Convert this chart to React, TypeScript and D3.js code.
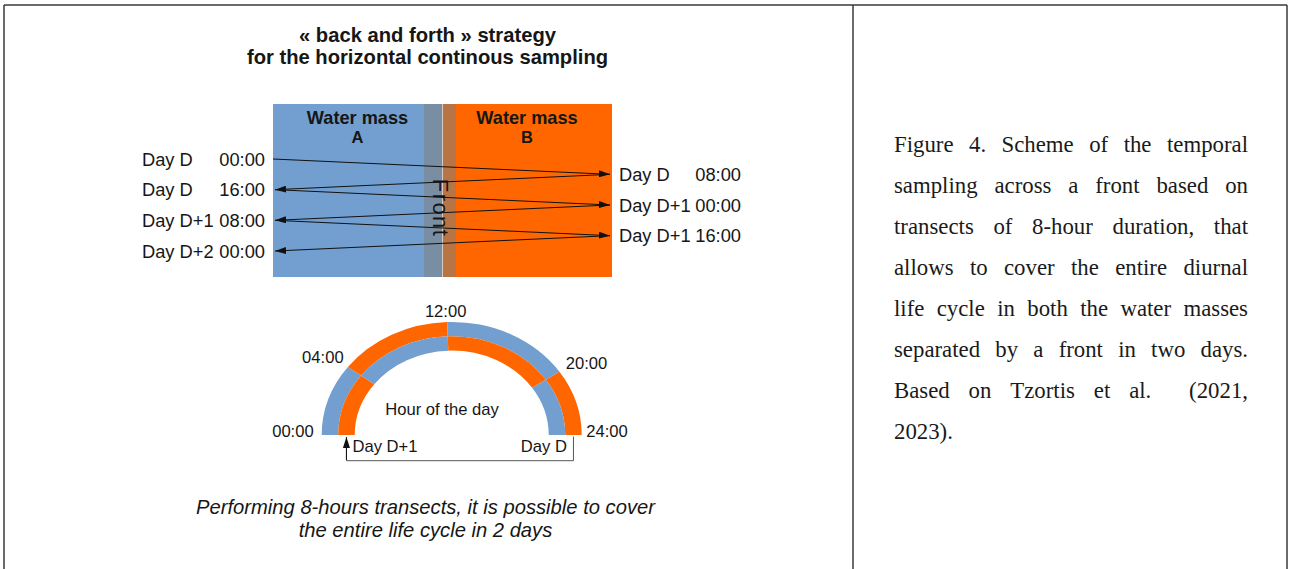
import React, { useMemo } from "react";
import * as d3 from "d3";

const W = 1290;
const H = 569;

// ---------- data ----------
const titleLines = ["« back and forth » strategy", "for the horizontal continous sampling"];
const massNames = ["A", "B"];
const massColors = ["#729fcf", "#ff6600"];
const massLabels = ["Water mass", "Water mass"];

const transectHours = [0, 8, 16, 24, 32, 40, 48];
const transectDays = ["Day D", "Day D", "Day D", "Day D+1", "Day D+1", "Day D+1", "Day D+2"];
const transectTimes = ["00:00", "08:00", "16:00", "00:00", "08:00", "16:00", "00:00"];
const transectMass = ["A", "B", "A", "B", "A", "B", "A"];

const hourTicks = [0, 4, 12, 20, 24];
const hourTickLabels = ["00:00", "04:00", "12:00", "20:00", "24:00"];
const segStart = [0, 4, 12, 20];
const segEnd = [4, 12, 20, 24];
const dayDMass = ["A", "B", "A", "B"]; // outer ring
const dayD1Mass = ["B", "A", "B", "A"]; // inner ring
const ringDayLabels = ["Day D", "Day D+1"];

const captionLines = [
  "Performing 8-hours transects, it is possible to cover",
  "the entire life cycle in 2 days",
];

const noteLines = [
  "Figure 4. Scheme of the temporal",
  "sampling across a front based on",
  "transects of 8-hour duration, that",
  "allows to cover the entire diurnal",
  "life cycle in both the water masses",
  "separated by a front in two days.",
  "Based on Tzortis et al.  (2021,",
  "2023).",
];

// ---------- layout ----------
const SANS = "'Liberation Sans', Arial, sans-serif";
const SERIF = "'Liberation Serif', 'Times New Roman', serif";
const INK = "#161616";

const box = { x0: 273, x1: 612, y0: 104, y1: 277, split: 442.5, f0: 424, f1: 456 };
const ring = { cx: 451.7, cy: 435, ky: 0.87, rOuter: 130, rMid: 113.5, rInner: 97 };
const tickOffsets = [
  { dx: -8, dy: 2, anchor: "end" },
  { dx: -25, dy: -4, anchor: "middle" },
  { dx: -1.5, dy: -4.5, anchor: "middle" },
  { dx: 27, dy: -3, anchor: "middle" },
  { dx: 4.5, dy: 2, anchor: "start" },
];
const note = { x0: 894, x1: 1248, y0: 152, pitch: 41, size: 22.8 };

let _ctx: CanvasRenderingContext2D | null = null;
function measure(text: string, font: string) {
  if (!_ctx) _ctx = document.createElement("canvas").getContext("2d");
  if (!_ctx) return text.length * 10;
  _ctx.font = font;
  return _ctx.measureText(text).width;
}

export default function App() {
  const y = d3.scaleLinear().domain([0, 48]).range([159, 251]);
  const x = d3.scaleOrdinal<string, number>().domain(massNames).range([275, 610]);
  const color = d3.scaleOrdinal<string, string>().domain(massNames).range(massColors);
  const angle = d3.scaleLinear().domain(hourTicks).range([-90, -53, -2, 56, 90]);
  const rad = (h: number) => (angle(h) * Math.PI) / 180;
  const polar = (h: number, r: number) => [
    ring.cx + r * Math.sin(rad(h)),
    ring.cy - r * Math.cos(rad(h)) * ring.ky,
  ];

  const arc = d3.arc<any>();
  const rings = [
    { masses: dayDMass, r0: ring.rMid, r1: ring.rOuter },
    { masses: dayD1Mass, r0: ring.rInner, r1: ring.rMid },
  ];

  const noteFont = `${note.size}px 'Liberation Serif'`;
  const noteWords = useMemo(() => {
    return noteLines.map((line, li) => {
      const words = line.split(" ");
      const widths = words.map((w) => measure(w, noteFont));
      const last = li === noteLines.length - 1;
      const total = widths.reduce((a, b) => a + b, 0);
      const gap = last || words.length < 2 ? measure(" ", noteFont) : (note.x1 - note.x0 - total) / (words.length - 1);
      let cx = note.x0;
      return words.map((w, i) => {
        const pos = cx;
        cx += widths[i] + gap;
        return { w, x: pos };
      });
    });
  }, []);

  const leftIdx = transectMass.map((m, i) => (m === "A" ? i : -1)).filter((i) => i >= 0);
  const rightIdx = transectMass.map((m, i) => (m === "B" ? i : -1)).filter((i) => i >= 0);

  const [lbx, lby] = polar(0, (ring.rMid + ring.rInner) / 2);
  const [rbx, rby] = polar(24, (ring.rOuter + ring.rMid) / 2);

  return (
    <svg
      width={W}
      height={H}
      viewBox={`0 0 ${W} ${H}`}
      style={{ position: "absolute", left: 0, top: 0, display: "block", background: "#fff" }}
    >
      <defs>
        <marker id="ah" viewBox="0 0 11 7" refX={11} refY={3.5} markerWidth={11} markerHeight={7} markerUnits="userSpaceOnUse" orient="auto">
          <path d="M0,0L11,3.5L0,7z" fill="#111" />
        </marker>
      </defs>
      <rect x={0} y={0} width={W} height={H} fill="#fff" />

      {/* table frame */}
      <g stroke="#3a3a3a" strokeWidth={1.5} fill="none">
        <line x1={4} y1={5} x2={1287} y2={5} />
        <line x1={4} y1={5} x2={4} y2={H} />
        <line x1={853} y1={5} x2={853} y2={H} />
        <line x1={1287} y1={5} x2={1287} y2={H} />
      </g>

      {/* title */}
      <g fontFamily={SANS} fontWeight="bold" fontSize={20.2} fill={INK} textAnchor="middle">
        {titleLines.map((t, i) => (
          <text key={i} x={427.5} y={42 + i * 22}>{t}</text>
        ))}
      </g>

      {/* water masses */}
      <rect x={box.x0} y={box.y0} width={box.split - box.x0} height={box.y1 - box.y0} fill={color("A")} />
      <rect x={box.split} y={box.y0} width={box.x1 - box.split} height={box.y1 - box.y0} fill={color("B")} />
      <rect x={box.f0} y={box.y0} width={box.f1 - box.f0} height={box.y1 - box.y0} fill="#808080" opacity={0.55} />
      <line x1={box.split} y1={box.y0} x2={box.split} y2={box.y1} stroke="#fff" strokeOpacity={0.55} strokeWidth={1} />
      {massNames.map((m, i) => {
        const cx = i === 0 ? (box.x0 + box.f0) / 2 + 9 : (box.f1 + box.x1) / 2 - 7;
        return (
          <g key={m} fontFamily={SANS} fontWeight="bold" fill={INK} textAnchor="middle">
            <text x={cx} y={124} fontSize={18.2}>{massLabels[i]}</text>
            <text x={cx} y={143} fontSize={16.5}>{m}</text>
          </g>
        );
      })}
      <text
        transform={`translate(${433},${208}) rotate(90)`}
        fontFamily={SANS}
        fontSize={22}
        letterSpacing={1.4}
        fill={INK}
        textAnchor="middle"
      >
        Front
      </text>

      {/* transects */}
      <g stroke="#111" strokeWidth={1} fill="none">
        {transectHours.slice(1).map((h, i) => (
          <line
            key={i}
            x1={i === 0 ? box.x0 : x(transectMass[i])}
            y1={y(transectHours[i])}
            x2={x(transectMass[i + 1])}
            y2={y(h)}
            markerEnd="url(#ah)"
          />
        ))}
      </g>
      <g fontFamily={SANS} fontSize={18.3} fill={INK}>
        {leftIdx.map((i) => (
          <g key={i}>
            <text x={142} y={y(transectHours[i]) + 6.5}>{transectDays[i]}</text>
            <text x={265} y={y(transectHours[i]) + 6.5} textAnchor="end">{transectTimes[i]}</text>
          </g>
        ))}
        {rightIdx.map((i) => (
          <g key={i}>
            <text x={619} y={y(transectHours[i]) + 6.5}>{transectDays[i]}</text>
            <text x={741} y={y(transectHours[i]) + 6.5} textAnchor="end">{transectTimes[i]}</text>
          </g>
        ))}
      </g>

      {/* hour-of-day rings */}
      <g transform={`translate(${ring.cx},${ring.cy}) scale(1,${ring.ky})`}>
        {rings.map((rg, ri) =>
          segStart.map((s, si) => (
            <path
              key={`${ri}-${si}`}
              d={arc({ innerRadius: rg.r0, outerRadius: rg.r1, startAngle: rad(s), endAngle: rad(segEnd[si]) }) || ""}
              fill={color(rg.masses[si])}
            />
          ))
        )}
      </g>
      <g fontFamily={SANS} fontSize={16.6} fill={INK}>
        {hourTicks.map((h, i) => {
          const [px, py] = polar(h, ring.rOuter);
          const o = tickOffsets[i];
          return (
            <text key={h} x={px + o.dx} y={py + o.dy} textAnchor={o.anchor as any}>
              {hourTickLabels[i]}
            </text>
          );
        })}
        <text x={442} y={415} textAnchor="middle">Hour of the day</text>
        <text x={lbx + 6} y={452}>{ringDayLabels[1]}</text>
        <text x={rbx - 6.5} y={452} textAnchor="end">{ringDayLabels[0]}</text>
      </g>
      <path
        d={`M${lbx},${438} L${lbx},${460.7} L${rbx},${460.7} L${rbx},${rby + 1.5}`}
        fill="none"
        stroke="#555"
        strokeWidth={1}
      />
      <line x1={lbx} y1={460} x2={lbx} y2={lby + 2} stroke="#111" strokeWidth={1} markerEnd="url(#ah)" />

      {/* caption */}
      <g fontFamily={SANS} fontStyle="italic" fontSize={20.2} fill={INK} textAnchor="middle">
        {captionLines.map((t, i) => (
          <text key={i} x={425.5} y={514 + i * 23}>{t}</text>
        ))}
      </g>

      {/* note */}
      <g fontFamily={SERIF} fontSize={note.size} fill="#1a1a1a">
        {noteWords.map((ws, li) =>
          ws.map((w, wi) => (
            <text key={`${li}-${wi}`} x={w.x} y={note.y0 + li * note.pitch}>{w.w}</text>
          ))
        )}
      </g>
    </svg>
  );
}
